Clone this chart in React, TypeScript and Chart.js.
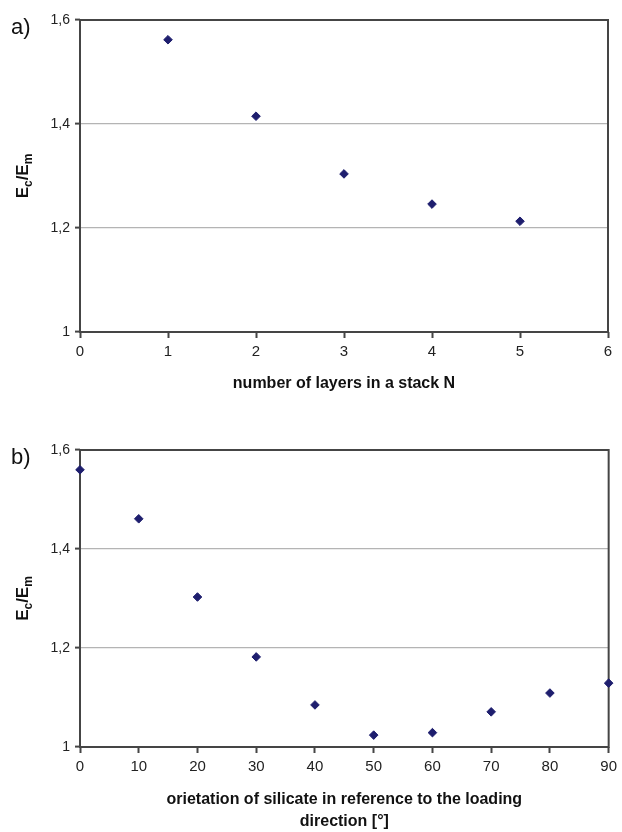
import React, { useEffect, useRef } from "react";
import { Chart, registerables } from "chart.js";

Chart.register(...registerables);

// Panel a
const layersN = [1, 2, 3, 4, 5];
const ratioA = [1.562, 1.415, 1.304, 1.246, 1.213];
// Panel b
const orientationDeg = [0, 10, 20, 30, 40, 50, 60, 70, 80, 90];
const ratioB = [1.56, 1.461, 1.303, 1.182, 1.085, 1.024, 1.029, 1.071, 1.109, 1.129];

const yTicksMin = 1;
const yTicksMax = 1.6;
const yStep = 0.2;
const xTitleA = ["number of layers in a stack N"];
const xTitleB = ["orietation of silicate in reference to the loading", "direction [°]"];

const FONT = "'Liberation Sans', Arial, Helvetica, sans-serif";
const MARK = "#1e1e6e";
const DARK = "#454545";
const GRID = "#b4b4b4";

function fmtY(v: number) {
  if (Math.abs(v - 1) < 1e-9) return "1";
  return v.toFixed(1).replace(".", ",");
}

function makePlugin(label: string, titleLines: string[], titleY: number[]) {
  return {
    id: "decor" + label,
    beforeDatasetsDraw(chart: any) {
      const { ctx, chartArea: a } = chart;
      ctx.save();
      ctx.strokeStyle = DARK;
      ctx.lineWidth = 2;
      ctx.strokeRect(a.left, a.top, a.right - a.left, a.bottom - a.top);
      ctx.restore();
    },
    afterDraw(chart: any) {
      const { ctx, chartArea: a } = chart;
      ctx.save();
      // panel label
      ctx.fillStyle = "#111";
      ctx.font = `22px ${FONT}`;
      ctx.textAlign = "left";
      ctx.textBaseline = "alphabetic";
      ctx.fillText(label, 11, a.top + 14);
      // y title: E_c/E_m rotated
      const big = `bold 17px ${FONT}`;
      const small = `bold 12px ${FONT}`;
      const parts: [string, string, number][] = [
        ["E", big, 0],
        ["c", small, 4],
        ["/E", big, 0],
        ["m", small, 4],
      ];
      let total = 0;
      for (const [t, f] of parts) {
        ctx.font = f;
        total += ctx.measureText(t).width;
      }
      const cy = (a.top + a.bottom) / 2;
      ctx.translate(28, cy);
      ctx.rotate(-Math.PI / 2);
      let x = -total / 2;
      ctx.fillStyle = "#111";
      for (const [t, f, dy] of parts) {
        ctx.font = f;
        ctx.fillText(t, x, dy);
        x += ctx.measureText(t).width;
      }
      ctx.setTransform(1, 0, 0, 1, 0, 0);
      // x title
      ctx.font = `bold 16px ${FONT}`;
      ctx.textAlign = "center";
      ctx.textBaseline = "middle";
      ctx.fillStyle = "#111";
      const cx = (a.left + a.right) / 2;
      titleLines.forEach((t, i) => ctx.fillText(t, cx, titleY[i]));
      ctx.restore();
    },
  };
}

function buildConfig(
  xs: number[],
  ys: number[],
  xMax: number,
  xStep: number,
  padTop: number,
  padRight: number,
  xHeight: number,
  plugin: any
): any {
  return {
    type: "scatter",
    data: {
      datasets: [
        {
          data: xs.map((x, i) => ({ x, y: ys[i] })),
          pointStyle: "rectRot",
          pointRadius: 4.3,
          pointBackgroundColor: MARK,
          pointBorderColor: MARK,
          pointBorderWidth: 1,
          showLine: false,
          clip: false,
        },
      ],
    },
    options: {
      responsive: false,
      animation: false,
      events: [],
      layout: { padding: { top: padTop, right: padRight, left: 0, bottom: 0 } },
      plugins: { legend: { display: false }, tooltip: { enabled: false } },
      scales: {
        x: {
          type: "linear",
          min: 0,
          max: xMax,
          afterFit: (s: any) => {
            s.height = xHeight;
          },
          ticks: {
            stepSize: xStep,
            color: "#222",
            font: { family: FONT, size: 15 },
            padding: 5,
            maxRotation: 0,
          },
          grid: {
            drawOnChartArea: false,
            drawTicks: true,
            tickLength: 6,
            tickColor: DARK,
            tickWidth: 2,
          },
          border: { display: false },
        },
        y: {
          type: "linear",
          min: yTicksMin,
          max: yTicksMax,
          afterFit: (s: any) => {
            s.width = 80;
          },
          ticks: {
            stepSize: yStep,
            color: "#222",
            font: { family: FONT, size: 14 },
            padding: 5,
            callback: (v: number) => fmtY(v),
          },
          grid: {
            color: (c: any) => {
              const v = c.tick ? c.tick.value : 0;
              return v > 1.01 && v < 1.59 ? GRID : "rgba(0,0,0,0)";
            },
            lineWidth: 1.2,
            drawTicks: true,
            tickLength: 5,
            tickColor: DARK,
            tickWidth: 2,
          },
          border: { display: false },
        },
      },
    },
    plugins: [plugin],
  };
}

export default function App() {
  const refA = useRef<HTMLCanvasElement>(null);
  const refB = useRef<HTMLCanvasElement>(null);

  useEffect(() => {
    const chartA = new Chart(
      refA.current as HTMLCanvasElement,
      buildConfig(layersN, ratioA, 6, 1, 20, 14, 78, makePlugin("a)", xTitleA, [384]))
    );
    const chartB = new Chart(
      refB.current as HTMLCanvasElement,
      buildConfig(orientationDeg, ratioB, 90, 10, 40, 12, 85, makePlugin("b)", xTitleB, [390, 412]))
    );
    return () => {
      chartA.destroy();
      chartB.destroy();
    };
  }, []);

  return (
    <div style={{ position: "absolute", left: 0, top: 0, width: 622, height: 832, background: "#fff" }}>
      <canvas ref={refA} width={622} height={410} style={{ position: "absolute", left: 0, top: 0, display: "block" }} />
      <canvas ref={refB} width={622} height={422} style={{ position: "absolute", left: 0, top: 410, display: "block" }} />
    </div>
  );
}
